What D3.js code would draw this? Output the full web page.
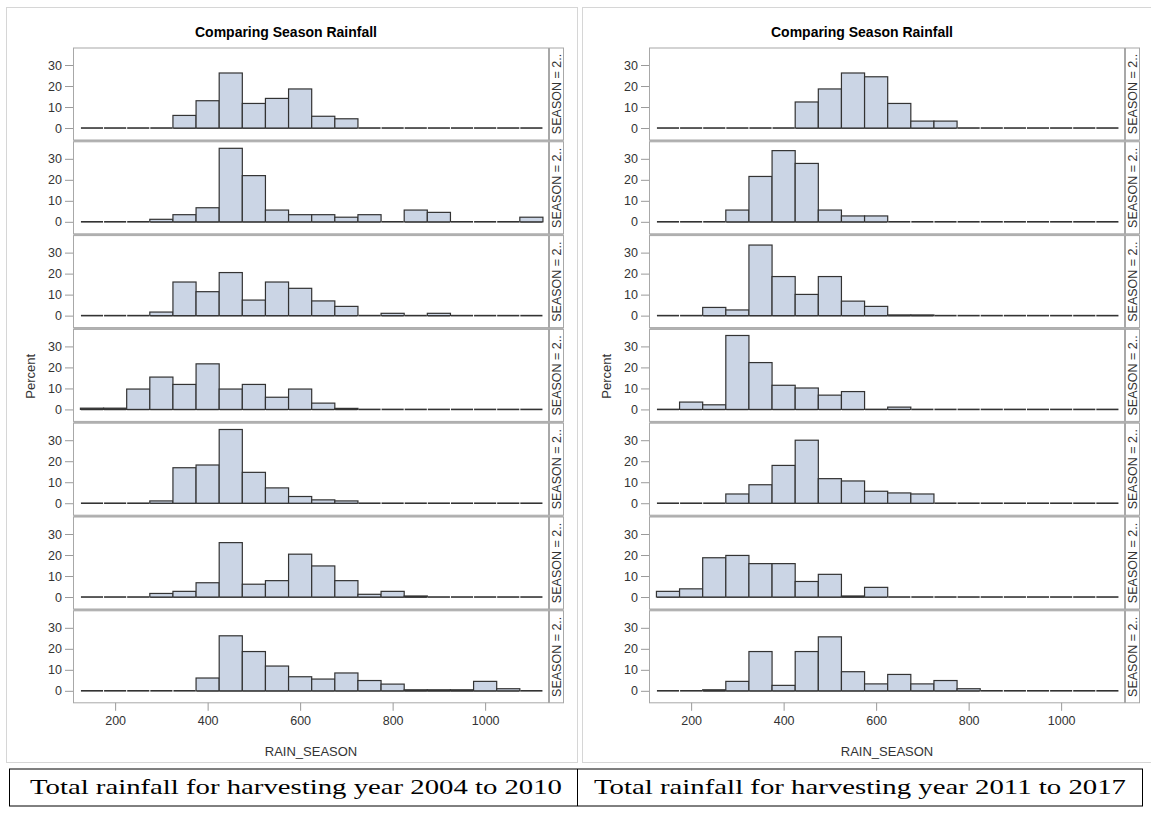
<!DOCTYPE html>
<html>
<head>
<meta charset="utf-8">
<script src="https://cdn.jsdelivr.net/npm/d3@7"></script>
<style>
  body { margin: 0; background: #fff; }
  svg { display: block; }
  text { font-family: "Liberation Sans", Arial, sans-serif; fill: #333; }
</style>
</head>
<body>
<svg id="chart" width="1151" height="816"></svg>
<script>
// histogram bins: start of each 50-wide bin of RAIN_SEASON
var binStarts = [125, 175, 225, 275, 325, 375, 425, 475, 525, 575,
                 625, 675, 725, 775, 825, 875, 925, 975, 1025, 1075];
var binWidth = 50;

var xTicks = [200, 400, 600, 800, 1000];
var yTicks = [0, 10, 20, 30];

// percent per bin, one array per SEASON row (left image: 2004 to 2010)
var left1 = [0, 0, 0, 0, 6, 13, 26.2, 11.7, 14.1, 18.6, 5.6, 4.4, 0, 0, 0, 0, 0, 0, 0, 0];
var left2 = [0, 0, 0, 1.2, 3.4, 6.7, 35, 22, 5.6, 3.4, 3.4, 2.2, 3.4, 0, 5.6, 4.5, 0, 0, 0, 2.2];
var left3 = [0, 0, 0, 1.7, 16, 11.4, 20.5, 7.4, 16, 13, 7, 4.4, 0, 1.1, 0, 1.1, 0, 0, 0, 0];
var left4 = [0.6, 0.6, 9.7, 15.4, 11.9, 21.7, 9.7, 11.9, 5.8, 9.7, 3, 0.5, 0, 0, 0, 0, 0, 0, 0, 0];
var left5 = [0, 0, 0, 1.1, 16.9, 18.2, 35.1, 14.7, 7.3, 3.2, 1.6, 1.1, 0, 0, 0, 0, 0, 0, 0, 0];
var left6 = [0, 0, 0, 1.7, 2.7, 6.8, 25.9, 6.1, 7.8, 20.4, 14.8, 7.8, 1.3, 2.7, 0.5, 0, 0, 0, 0, 0];
var left7 = [0, 0, 0, 0, 0, 6.1, 26.2, 18.7, 11.8, 6.7, 5.6, 8.5, 4.9, 3.2, 0.5, 0.5, 0.5, 4.5, 1, 0];

// right image: 2011 to 2017
var right1 = [0, 0, 0, 0, 0, 0, 12.4, 18.6, 26.2, 24.4, 11.7, 3.3, 3.3, 0, 0, 0, 0, 0, 0, 0];
var right2 = [0, 0, 0, 5.6, 21.6, 33.9, 27.8, 5.6, 2.8, 2.8, 0, 0, 0, 0, 0, 0, 0, 0, 0, 0];
var right3 = [0, 0, 3.9, 2.7, 33.6, 18.6, 10.1, 18.6, 6.9, 4.4, 0.3, 0.3, 0, 0, 0, 0, 0, 0, 0, 0];
var right4 = [0, 3.5, 2.2, 35.2, 22.3, 11.5, 10.2, 6.8, 8.5, 0, 1.1, 0, 0, 0, 0, 0, 0, 0, 0, 0];
var right5 = [0, 0, 0, 4.4, 8.8, 18, 30, 11.7, 10.6, 5.7, 4.9, 4.4, 0, 0, 0, 0, 0, 0, 0, 0];
var right6 = [2.7, 3.9, 18.7, 19.8, 15.9, 15.9, 7.4, 10.8, 0.5, 4.6, 0, 0, 0, 0, 0, 0, 0, 0, 0, 0];
var right7 = [0, 0, 0.5, 4.5, 18.7, 2.6, 18.7, 25.7, 9.1, 3.3, 7.8, 3.3, 4.9, 1, 0, 0, 0, 0, 0, 0];

var stripLabel = "SEASON = 2..";
var title = "Comparing Season Rainfall";
var xLabel = "RAIN_SEASON";
var yLabel = "Percent";
var captions = ["Total rainfall for harvesting year 2004 to 2010",
                "Total rainfall for harvesting year 2011 to 2017"];

var leftRows = [left1, left2, left3, left4, left5, left6, left7];
var rightRows = [right1, right2, right3, right4, right5, right6, right7];

// layout of one panel (left one; the right one is shifted)
var panelShift = 576;
var frameL = 73.5, frameR = 548.5;
var stripW = 14;
var rowTop = 48, rowPitch = 93.8, rowH = 92;

var svg = d3.select("#chart");

var x = d3.scaleLinear().domain([110, 1137]).range([frameL, frameR]);
var y = d3.scaleLinear().domain([-5.7, 38.1]).range([rowH, 0]);

function drawPanel(g, rows) {
  // outer light border of the image
  g.append("rect")
    .attr("x", 6.5).attr("y", 7.5)
    .attr("width", 571).attr("height", 755)
    .attr("fill", "none").attr("stroke", "#d6d6d6");

  g.append("text")
    .attr("x", 286)
    .attr("y", 37)
    .attr("text-anchor", "middle")
    .style("font-size", "14px")
    .style("font-weight", "bold")
    .style("fill", "#000")
    .text(title);

  rows.forEach(function (vals, i) {
    var top = rowTop + i * rowPitch;
    var row = g.append("g").attr("transform", "translate(0," + top + ")");

    // separator band below row (between cells)
    if (i < rows.length - 1) {
      row.append("rect")
        .attr("x", frameL).attr("y", rowH)
        .attr("width", frameR - frameL + stripW + 1).attr("height", rowPitch - rowH)
        .attr("fill", "#b4b4b4");
    }

    row.append("rect")
      .attr("x", frameL).attr("y", 0)
      .attr("width", frameR - frameL).attr("height", rowH)
      .attr("fill", "#fff").attr("stroke", "#a8a8a8");

    // strip on the right
    row.append("rect")
      .attr("x", frameR + 1).attr("y", 0)
      .attr("width", stripW).attr("height", rowH)
      .attr("fill", "#fff").attr("stroke", "#a8a8a8");
    row.append("text")
      .attr("transform", "translate(" + (frameR + 1 + stripW / 2 + 4.5) + "," + (rowH / 2) + ") rotate(-90)")
      .attr("text-anchor", "middle")
      .style("font-size", "12.5px")
      .text(stripLabel);

    // y axis
    var ax = row.append("g")
      .attr("transform", "translate(" + (frameL - 0.5) + ",0)")
      .call(d3.axisLeft(y).tickValues(yTicks).tickSize(8).tickPadding(3));
    ax.select(".domain").remove();
    ax.selectAll("line").attr("stroke", "#9a9a9a");
    ax.selectAll("text").style("font-size", "12.5px").style("fill", "#333")
      .style("font-family", "'Liberation Sans', Arial, sans-serif");

    // baseline for every bin (zero-height bins show as a line)
    row.selectAll("line.base")
      .data(vals)
      .enter().append("line")
      .attr("class", "base")
      .attr("x1", function (d, j) { return x(binStarts[j]) + 0.5; })
      .attr("x2", function (d, j) { return x(binStarts[j] + binWidth) - 0.5; })
      .attr("y1", y(0)).attr("y2", y(0))
      .attr("stroke", "#333").attr("stroke-width", 1.6);

    // bars
    row.selectAll("rect.bar")
      .data(vals.map(function (v, j) { return { v: v, s: binStarts[j] }; })
        .filter(function (d) { return d.v > 0; }))
      .enter().append("rect")
      .attr("class", "bar")
      .attr("x", function (d) { return x(d.s); })
      .attr("width", function (d) { return x(d.s + binWidth) - x(d.s); })
      .attr("y", function (d) { return y(d.v); })
      .attr("height", function (d) { return y(0) - y(d.v); })
      .attr("fill", "#cbd5e5")
      .attr("stroke", "#333")
      .attr("stroke-width", 1.2);
  });

  // bottom axis
  var bottom = rowTop + (rows.length - 1) * rowPitch + rowH;
  var xa = g.append("g")
    .attr("transform", "translate(0," + bottom + ")")
    .call(d3.axisBottom(x).tickValues(xTicks).tickFormat(d3.format("d"))
      .tickSize(8).tickPadding(5));
  xa.select(".domain").remove();
  xa.selectAll("line").attr("stroke", "#9a9a9a");
  xa.selectAll("text").style("font-size", "12.5px").style("fill", "#333")
    .style("font-family", "'Liberation Sans', Arial, sans-serif");

  g.append("text")
    .attr("x", (frameL + frameR) / 2)
    .attr("y", bottom + 53)
    .attr("text-anchor", "middle")
    .style("font-size", "13px")
    .text(xLabel);

  g.append("text")
    .attr("transform", "translate(35," + (rowTop + (rows.length * rowPitch) / 2) + ") rotate(-90)")
    .attr("text-anchor", "middle")
    .style("font-size", "13px")
    .text(yLabel);
}

drawPanel(svg.append("g"), leftRows);
drawPanel(svg.append("g").attr("transform", "translate(" + panelShift + ",0)"), rightRows);

// caption table under the two images
var capTop = 769, capBottom = 806;
var cap = svg.append("g");
cap.append("line").attr("x1", 9).attr("x2", 1143).attr("y1", capTop).attr("y2", capTop)
  .attr("stroke", "#000");
cap.append("line").attr("x1", 9).attr("x2", 1143).attr("y1", capBottom).attr("y2", capBottom)
  .attr("stroke", "#000");
[9.5, 577.5, 1142.5].forEach(function (cx) {
  cap.append("line").attr("x1", cx).attr("x2", cx).attr("y1", capTop).attr("y2", capBottom)
    .attr("stroke", "#000");
});
captions.forEach(function (c, i) {
  cap.append("text")
    .attr("x", i === 0 ? 296 : 860)
    .attr("y", 794)
    .attr("text-anchor", "middle")
    .attr("textLength", 532)
    .attr("lengthAdjust", "spacingAndGlyphs")
    .style("font-family", "'Liberation Serif', 'DejaVu Serif', serif")
    .style("font-size", "21px")
    .style("fill", "#000")
    .text(c);
});
</script>
</body>
</html>
